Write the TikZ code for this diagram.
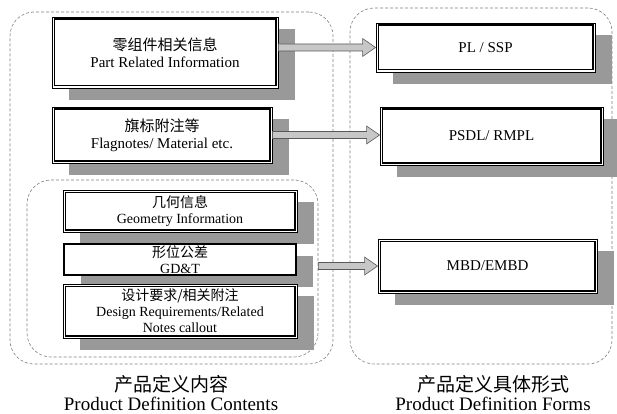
\documentclass[tikz,border=0pt]{standalone}
\usepackage{fontspec}
\setmainfont{Liberation Serif}
\newfontfamily\cjk{Noto Sans CJK SC}
\usetikzlibrary{calc,shadows}
\tikzset{
  container/.style={draw=black!50, densely dashed, line width=0.6pt, rounded corners=24pt, inner sep=0pt},
  boxbase/.style={fill=white, inner sep=0pt, align=center, font=\fontsize{15pt}{17pt}\selectfont,
    drop shadow={shadow xshift=17pt, shadow yshift=-12pt, fill=black!40, opacity=1}},
  smalltext/.style={font=\fontsize{14pt}{16pt}\selectfont},
  dbox/.style={boxbase, draw=black, line width=0.9pt},
  tbox/.style={boxbase, draw=black, line width=2.4pt},
  iframe/.style={draw=black, line width=1.3pt},
  blockarrow/.style={draw=black!65, fill=black!22, line width=0.6pt, line join=miter},
  caption/.style={align=center, inner sep=0pt, font=\fontsize{19pt}{20pt}\selectfont}
}
\newcommand{\innerframe}[1]{%
  \draw[iframe] ($(#1.south west)+(2.6pt,2.6pt)$) rectangle ($(#1.north east)+(-2.6pt,-2.6pt)$);}
\newcommand{\blockarr}[2]{%
  \path[blockarrow] let \p1=(#1), \p2=(#2) in
  (\x1,\y1+3.5pt) -- (\x2-13pt,\y1+3.5pt) -- (\x2-13pt,\y1+9pt) -- (\x2,\y1)
  -- (\x2-13pt,\y1-9pt) -- (\x2-13pt,\y1-3.5pt) -- (\x1,\y1-3.5pt) -- cycle;}
\begin{document}
\begin{tikzpicture}[x=1pt,y=-1pt]
\useasboundingbox (0,0) rectangle (617,414);
% containers
\node[container, minimum width=323pt, minimum height=352pt] (leftc) at (171.5,188) {};
\node[container, minimum width=291pt, minimum height=177pt] (inner) at (172.5,268.5) {};
\node[container, minimum width=262pt, minimum height=356pt] (rightc) at (481,186) {};
% left boxes
\node[dbox, minimum width=226pt, minimum height=71pt] (b1) at (165,52.5)
  {{\cjk 零组件相关信息}\\Part Related Information};
\innerframe{b1}
\node[dbox, minimum width=220pt, minimum height=56pt] (b2) at (162,135)
  {{\cjk 旗标附注等}\\Flagnotes/ Material etc.};
\innerframe{b2}
\node[dbox, smalltext, minimum width=234pt, minimum height=42pt] (b3) at (180,211)
  {{\cjk 几何信息}\\Geometry Information};
\innerframe{b3}
\node[tbox, smalltext, minimum width=232pt, minimum height=31pt] (b4) at (180,259.5)
  {{\cjk 形位公差}\\GD\&T};
\node[dbox, smalltext, minimum width=234pt, minimum height=54pt] (b5) at (180,311)
  {{\cjk 设计要求/相关附注}\\Design Requirements/Related\\Notes callout};
\innerframe{b5}
% right boxes
\node[dbox, minimum width=219pt, minimum height=49pt] (r1) at (485.5,47.5) {PL / SSP};
\innerframe{r1}
\node[dbox, minimum width=223pt, minimum height=58pt] (r2) at (491.5,136) {PSDL/ RMPL};
\innerframe{r2}
\node[dbox, minimum width=219pt, minimum height=54pt] (r3) at (487.5,266) {MBD/EMBD};
\innerframe{r3}
% arrows
\coordinate (s1) at (b1.east |- r1.west);
\coordinate (s2) at (b2.east);
\coordinate (e2) at (r2.west |- b2.east);
\coordinate (s3) at (inner.east |- r3.west);
\blockarr{s1}{r1.west}
\blockarr{s2}{e2}
\blockarr{s3}{r3.west}
% captions
\node[caption] (c1) at (171,384) {\cjk 产品定义内容};
\node[caption] (c2) at (171,404) {Product Definition Contents};
\node[caption] (c3) at (493,384) {\cjk 产品定义具体形式};
\node[caption] (c4) at (493,404) {Product Definition Forms};
\end{tikzpicture}
\end{document}
